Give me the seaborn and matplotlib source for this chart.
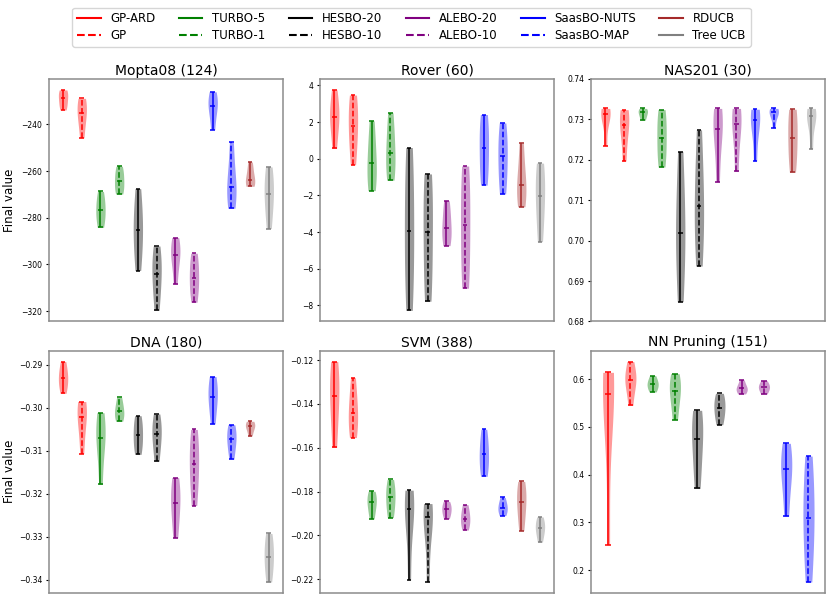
import numpy as np
import pandas as pd
import seaborn as sns
import matplotlib.pyplot as plt
from matplotlib.lines import Line2D

methods = ['GP-ARD', 'GP', 'TURBO-5', 'TURBO-1', 'HESBO-20', 'HESBO-10',
           'ALEBO-20', 'ALEBO-10', 'SaasBO-NUTS', 'SaasBO-MAP', 'RDUCB', 'Tree UCB']
colors = ['red', 'red', 'green', 'green', 'black', 'black',
          'purple', 'purple', 'blue', 'blue', 'brown', 'gray']
styles = ['-', '--', '-', '--', '-', '--', '-', '--', '-', '--', '-', '-']

# final values per method (min, lower, centre, upper, max)
mopta08 = [
    [-233.8, -231.5, -228.8, -226.5, -225.2],
    [-245.7, -238.5, -235.2, -231.0, -228.8],
    [-284.1, -280.0, -276.7, -273.0, -268.7],
    [-269.8, -267.5, -264.2, -261.0, -257.9],
    [-302.6, -292.0, -285.1, -278.0, -267.5],
    [-319.7, -310.0, -304.0, -298.0, -292.1],
    [-308.4, -299.0, -296.0, -292.0, -288.5],
    [-316.2, -310.0, -306.0, -300.0, -295.2],
    [-242.2, -235.0, -231.9, -229.0, -226.0],
    [-275.9, -270.5, -266.8, -260.0, -247.6],
    [-266.5, -265.0, -263.8, -260.0, -256.1],
    [-284.6, -275.0, -270.0, -264.0, -258.2],
]
rover = [
    [0.56, 1.8, 2.29, 2.8, 3.75],
    [-0.33, 1.0, 1.77, 2.8, 3.47],
    [-1.74, -1.1, -0.23, 0.7, 2.06],
    [-1.17, -0.5, 0.31, 1.3, 2.50],
    [-8.27, -6.0, -3.92, -1.5, 0.61],
    [-7.77, -6.0, -4.01, -2.0, -0.83],
    [-4.74, -4.2, -3.79, -3.0, -2.29],
    [-7.06, -5.5, -3.60, -1.8, -0.40],
    [-1.44, -0.5, 0.59, 1.6, 2.41],
    [-1.92, -0.9, 0.15, 1.0, 1.95],
    [-2.62, -2.0, -1.46, -0.6, 0.84],
    [-4.52, -3.0, -2.04, -1.0, -0.24],
]
nas201 = [
    [0.7235, 0.7300, 0.7312, 0.7322, 0.7327],
    [0.7197, 0.7260, 0.7287, 0.7315, 0.7324],
    [0.7298, 0.7308, 0.7317, 0.7322, 0.7327],
    [0.7182, 0.7215, 0.7255, 0.7295, 0.7324],
    [0.6849, 0.6960, 0.7020, 0.7100, 0.7220],
    [0.6937, 0.7020, 0.7085, 0.7160, 0.7274],
    [0.7145, 0.7240, 0.7276, 0.7315, 0.7327],
    [0.7171, 0.7250, 0.7289, 0.7318, 0.7327],
    [0.7197, 0.7270, 0.7298, 0.7318, 0.7325],
    [0.7279, 0.7308, 0.7317, 0.7323, 0.7327],
    [0.7169, 0.7215, 0.7253, 0.7300, 0.7325],
    [0.7227, 0.7290, 0.7308, 0.7320, 0.7327],
]
dna = [
    [-0.2966, -0.2945, -0.2931, -0.2915, -0.2892],
    [-0.3106, -0.3050, -0.3020, -0.2995, -0.2985],
    [-0.3178, -0.3095, -0.3069, -0.3040, -0.3011],
    [-0.3031, -0.3020, -0.3008, -0.2995, -0.2975],
    [-0.3108, -0.3085, -0.3063, -0.3040, -0.3018],
    [-0.3124, -0.3085, -0.3061, -0.3040, -0.3014],
    [-0.3302, -0.3250, -0.3221, -0.3190, -0.3162],
    [-0.3227, -0.3170, -0.3131, -0.3090, -0.3050],
    [-0.3037, -0.2995, -0.2974, -0.2950, -0.2927],
    [-0.3119, -0.3090, -0.3073, -0.3055, -0.3039],
    [-0.3065, -0.3050, -0.3043, -0.3036, -0.3031],
    [-0.3405, -0.3370, -0.3346, -0.3320, -0.3292],
]
svm = [
    [-0.1599, -0.1450, -0.1364, -0.1280, -0.1207],
    [-0.1554, -0.1500, -0.1440, -0.1380, -0.1281],
    [-0.1925, -0.1880, -0.1849, -0.1825, -0.1799],
    [-0.1919, -0.1870, -0.1825, -0.1790, -0.1745],
    [-0.2204, -0.1960, -0.1881, -0.1830, -0.1794],
    [-0.2213, -0.1990, -0.1918, -0.1880, -0.1855],
    [-0.1924, -0.1900, -0.1882, -0.1865, -0.1845],
    [-0.1976, -0.1945, -0.1924, -0.1895, -0.1860],
    [-0.1731, -0.1680, -0.1631, -0.1580, -0.1516],
    [-0.1910, -0.1890, -0.1873, -0.1855, -0.1827],
    [-0.1978, -0.1900, -0.1846, -0.1800, -0.1754],
    [-0.2031, -0.1990, -0.1966, -0.1945, -0.1916],
]
nn_pruning = [
    [0.2534, 0.5500, 0.5699, 0.6000, 0.6144],
    [0.5452, 0.5850, 0.5986, 0.6100, 0.6370],
    [0.5733, 0.5830, 0.5897, 0.5960, 0.6075],
    [0.5151, 0.5550, 0.5747, 0.5950, 0.6116],
    [0.3712, 0.4300, 0.4753, 0.5100, 0.5349],
    [0.5048, 0.5250, 0.5404, 0.5550, 0.5705],
    [0.5692, 0.5760, 0.5808, 0.5860, 0.5986],
    [0.5692, 0.5780, 0.5836, 0.5880, 0.5966],
    [0.3130, 0.3800, 0.4116, 0.4350, 0.4658],
    [0.1753, 0.2600, 0.3103, 0.3700, 0.4390],
]

panels = [('Mopta08 (124)', mopta08), ('Rover (60)', rover), ('NAS201 (30)', nas201),
          ('DNA (180)', dna), ('SVM (388)', svm), ('NN Pruning (151)', nn_pruning)]

fig, axes = plt.subplots(2, 3, figsize=(8.31, 6.07), dpi=100)
fig.subplots_adjust(left=0.059, right=0.993, top=0.870, bottom=0.023, wspace=0.16, hspace=0.12)

for k, (ax, (title, data)) in enumerate(zip(axes.flat, panels)):
    names = methods[:len(data)]
    df = pd.DataFrame([(m, v) for m, vals in zip(names, data) for v in vals],
                      columns=['method', 'value'])
    pal = dict(zip(names, colors))
    sns.violinplot(data=df, x='method', y='value', hue='method', order=names,
                   hue_order=names, palette=pal, cut=0, inner=None, width=0.5,
                   density_norm='width', linewidth=0, saturation=1, legend=False, ax=ax)
    for c in ax.collections:
        c.set_alpha(0.4)

    for i, m in enumerate(names):
        vals = df.loc[df['method'] == m, 'value']
        lo, hi, mid = vals.min(), vals.max(), vals.median()
        ax.vlines(i, lo, hi, color=colors[i], linestyle=styles[i], linewidth=1.1)
        ax.hlines([lo, hi, mid], i - 0.125, i + 0.125, color=colors[i], linewidth=1.1)

    ax.set_xlim(-0.75, len(names) - 0.25)
    ax.set_xticks([])
    ax.set_xlabel('')
    ax.set_ylabel('Final value' if k % 3 == 0 else '', fontsize=8.5)
    ax.yaxis.set_label_coords(-0.142, 0.5)
    ax.set_title(title, fontsize=10, pad=3)
    ax.tick_params(axis='y', labelsize=5.5, length=2.5, width=0.8, pad=2.5)
    for s in ax.spines.values():
        s.set_color('0.55')
        s.set_linewidth(1.1)
    if title.startswith('NAS201'):
        ax.set_ylim(0.68, 0.74)

handles = [Line2D([0], [0], color=c, linestyle=s, linewidth=1.5) for c, s in zip(colors, styles)]
fig.legend(handles, methods, loc='upper center', bbox_to_anchor=(0.495, 0.997), ncol=6,
           fontsize=8.5, frameon=True, columnspacing=2.0, labelspacing=0.3)

fig.savefig('out.png', dpi=100)
